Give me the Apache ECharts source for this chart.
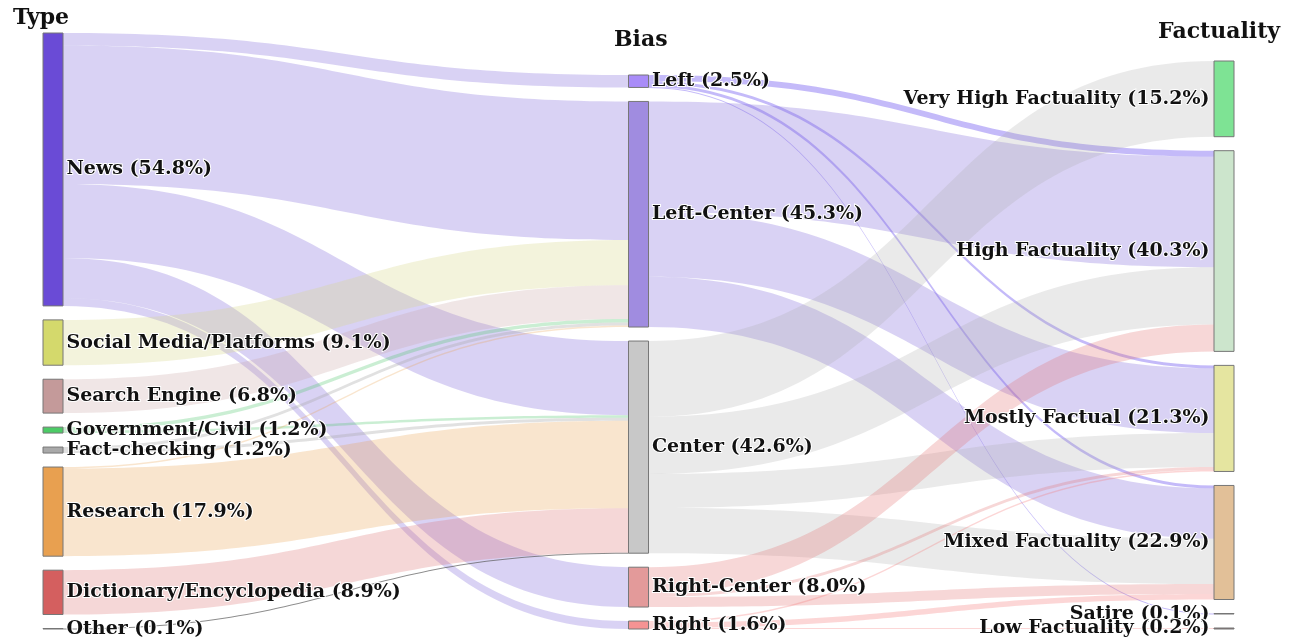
<!DOCTYPE html>
<html><head><meta charset="utf-8">
<script src="https://cdn.jsdelivr.net/npm/echarts@6/dist/echarts.min.js"></script>
<style>html,body{margin:0;padding:0;background:#fff}#c{width:1299px;height:644px}</style>
</head><body><div id="c"></div>
<script>
// ---- data ----
const typeNodes = ['News','Social Media/Platforms','Search Engine','Government/Civil','Fact-checking','Research','Dictionary/Encyclopedia','Other'];
const typeShares = [54.8, 9.1, 6.8, 1.2, 1.2, 17.9, 8.9, 0.1];
const biasNodes = ['Left','Left-Center','Center','Right-Center','Right'];
const biasShares = [2.5, 45.3, 42.6, 8.0, 1.6];
const factNodes = ['Very High Factuality','High Factuality','Mostly Factual','Mixed Factuality','Satire','Low Factuality'];
const factShares = [15.2, 40.3, 21.3, 22.9, 0.1, 0.2];
const typeToBias = [
  ['News','Left',2.5],['News','Left-Center',27.8],['News','Center',14.9],['News','Right-Center',8.0],['News','Right',1.6],
  ['Social Media/Platforms','Left-Center',9.1],
  ['Search Engine','Left-Center',6.8],
  ['Government/Civil','Left-Center',0.7],['Government/Civil','Center',0.5],
  ['Fact-checking','Left-Center',0.6],['Fact-checking','Center',0.6],
  ['Research','Left-Center',0.3],['Research','Center',17.6],
  ['Dictionary/Encyclopedia','Center',8.9],
  ['Other','Center',0.1]
];
const biasToFact = [
  ['Left','High Factuality',1.2],['Left','Mostly Factual',0.6],['Left','Mixed Factuality',0.6],['Left','Satire',0.1],
  ['Left-Center','High Factuality',22.2],['Left-Center','Mostly Factual',13.0],['Left-Center','Mixed Factuality',10.1],
  ['Center','Very High Factuality',15.2],['Center','High Factuality',11.5],['Center','Mostly Factual',6.8],['Center','Mixed Factuality',9.1],
  ['Right-Center','High Factuality',5.4],['Right-Center','Mostly Factual',0.6],['Right-Center','Mixed Factuality',2.0],
  ['Right','Mostly Factual',0.3],['Right','Mixed Factuality',1.1],['Right','Low Factuality',0.2]
];
const columnTitles = ['Type','Bias','Factuality'];

// ---- styles / layout settings ----
const nodeColor = {
  'News':'#6a4bd6','Social Media/Platforms':'#d4d96c','Search Engine':'#c49a9a','Government/Civil':'#4ccb66',
  'Fact-checking':'#a9a9a9','Research':'#e8a050','Dictionary/Encyclopedia':'#d45f5f','Other':'#888888',
  'Left':'#a98cf8','Left-Center':'#a08ce0','Center':'#c8c8c8','Right-Center':'#e39a9a','Right':'#f59393',
  'Very High Factuality':'#7ee394','High Factuality':'#cce5cc','Mostly Factual':'#e5e5a0','Mixed Factuality':'#e2c098',
  'Satire':'#888888','Low Factuality':'#8a7070'
};
const linkColor = {
  'News':'rgba(130,105,220,0.30)','Social Media/Platforms':'rgba(215,215,140,0.30)','Search Engine':'rgba(200,165,165,0.28)',
  'Government/Civil':'rgba(80,200,110,0.30)','Fact-checking':'rgba(170,170,170,0.35)','Research':'rgba(235,160,80,0.28)',
  'Dictionary/Encyclopedia':'rgba(220,110,110,0.28)','Other':'rgba(90,90,90,0.7)',
  'Left':'rgba(115,90,240,0.42)','Left-Center':'rgba(130,105,220,0.30)','Center':'rgba(170,170,170,0.25)',
  'Right-Center':'rgba(225,110,110,0.28)','Right':'rgba(245,120,120,0.30)'
};
const FONT = 'DejaVu Serif';
const labelText = {fontFamily: FONT, fontWeight: 'bold', fontSize: 19, color: '#111', textBorderColor: '#fff', textBorderWidth: 2};
const titleText = {fontFamily: FONT, fontWeight: 'bold', fontSize: 22, color: '#111'};
const TOP = 33, BOTTOM = 15, LEFT = 43, RIGHT = 65, GAP = 14, HT = 644;

// Columns are stacked bottom-justified (same node scale as the library: ky = min over columns)
const H = HT - TOP - BOTTOM;
const sum = a => a.reduce((s, v) => s + v, 0);
const columns = [[typeNodes, typeShares, 'right'], [biasNodes, biasShares, 'right'], [factNodes, factShares, 'left']];
const ky = Math.min.apply(null, columns.map(c => (H - (c[0].length - 1) * GAP) / sum(c[1])));
const nodes = [];
columns.forEach(([names, shares, pos]) => {
  let y = H - (sum(shares) * ky + (names.length - 1) * GAP);
  names.forEach((n, i) => {
    nodes.push({
      name: n, value: shares[i], localY: y / H,
      itemStyle: {color: nodeColor[n], borderColor: '#777', borderWidth: 1},
      label: Object.assign({show: true, position: pos, distance: pos === 'left' ? 4 : 3,
        formatter: n + ' (' + shares[i].toFixed(1) + '%)'}, labelText)
    });
    y += shares[i] * ky + GAP;
  });
});
const links = typeToBias.concat(biasToFact).map(l => ({source: l[0], target: l[1], value: l[2], lineStyle: {color: linkColor[l[0]], opacity: 1}}));

const chart = echarts.init(document.getElementById('c'));
chart.setOption({
  animation: false,
  backgroundColor: '#fff',
  title: [
    {text: columnTitles[0], left: 8, top: 2, textStyle: titleText},
    {text: columnTitles[1], left: 609, top: 24, textStyle: titleText},
    {text: columnTitles[2], left: 1153, top: 16, textStyle: titleText}
  ],
  series: [{
    type: 'sankey',
    left: LEFT, right: RIGHT, top: TOP, bottom: BOTTOM,
    nodeWidth: 20, nodeGap: GAP,
    nodeAlign: 'justify',
    layoutIterations: 0,
    draggable: false,
    emphasis: {disabled: true},
    lineStyle: {curveness: 0.5},
    data: nodes,
    links: links
  }]
});
</script>
</body></html>
